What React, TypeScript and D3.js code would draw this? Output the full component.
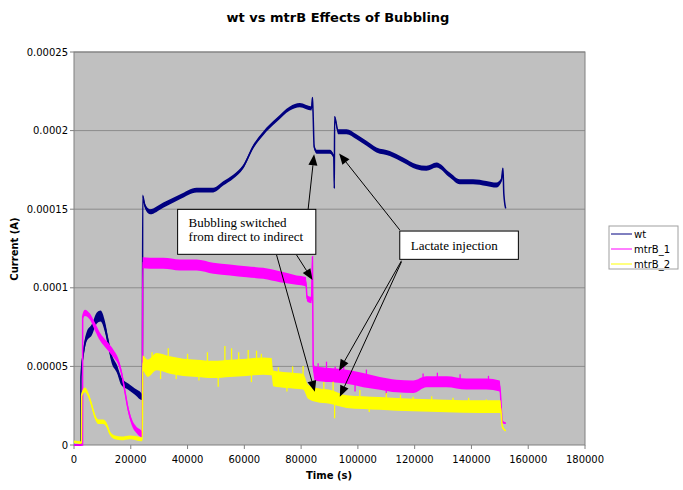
import React from "react";
import * as d3 from "d3";

type P = [number, number, number]; // [time s, current A, half-spread A]

const xTicks = [0, 20000, 40000, 60000, 80000, 100000, 120000, 140000, 160000, 180000];
const yTicks = [0, 0.00005, 0.0001, 0.00015, 0.0002, 0.00025];
const yTickLabels = ["0", "0.00005", "0.0001", "0.00015", "0.0002", "0.00025"];
const seriesNames = ["wt", "mtrB_1", "mtrB_2"];
const seriesColors = ["#000080", "#FF00FF", "#FFFF00"];

const wt: P[] = [
  [0, 0, 0.3e-6], [2400, 0, 0.3e-6], [2460, 4.34e-5, 2.5e-6], [3290, 5.83e-5, 3e-6],
  [4460, 6.89e-5, 3e-6], [6220, 7.31e-5, 3.5e-6], [7980, 8.06e-5, 3.5e-6], [9380, 8.2e-5, 3.5e-6],
  [10900, 7.52e-5, 3.5e-6], [12100, 6.47e-5, 3e-6], [13260, 5.51e-5, 3e-6], [15020, 4.88e-5, 2.5e-6],
  [16780, 4.03e-5, 2.5e-6], [19120, 3.71e-5, 2e-6], [21470, 3.39e-5, 2e-6], [23820, 3.07e-5, 2e-6],
  [24100, 3.0e-5, 1e-6], [24200, 1.584e-4, 1e-6], [25000, 1.52e-4, 1.6e-6], [26750, 1.484e-4, 1.6e-6],
  [31450, 1.526e-4, 1.6e-6], [37300, 1.579e-4, 1.5e-6], [43190, 1.622e-4, 1.5e-6], [49050, 1.622e-4, 1.5e-6],
  [52560, 1.664e-4, 1.4e-6], [56080, 1.706e-4, 1.3e-6], [59600, 1.77e-4, 1.3e-6], [63120, 1.897e-4, 1.3e-6],
  [66640, 1.982e-4, 1.3e-6], [71340, 2.067e-4, 1.3e-6], [76030, 2.141e-4, 1.3e-6], [79550, 2.162e-4, 1.3e-6],
  [83660, 2.141e-4, 1.3e-6], [84000, 2.21e-4, 0.5e-6], [84200, 2.12e-4, 1e-6], [84600, 1.897e-4, 1.3e-6],
  [85500, 1.865e-4, 1.3e-6], [90100, 1.865e-4, 1.3e-6], [91500, 1.834e-4, 1.3e-6], [91700, 1.632e-4, 0.5e-6],
  [91800, 2.088e-4, 0.5e-6], [93050, 1.993e-4, 1.6e-6], [96000, 1.993e-4, 1.6e-6], [99500, 1.961e-4, 1.6e-6],
  [103030, 1.919e-4, 1.6e-6], [106550, 1.876e-4, 1.6e-6], [111230, 1.855e-4, 1.6e-6], [115920, 1.813e-4, 1.6e-6],
  [120620, 1.77e-4, 1.6e-6], [124140, 1.76e-4, 1.6e-6], [127660, 1.781e-4, 1.6e-6], [132350, 1.717e-4, 1.6e-6],
  [135870, 1.675e-4, 1.6e-6], [140560, 1.675e-4, 1.6e-6], [145260, 1.664e-4, 1.6e-6], [148780, 1.654e-4, 1.6e-6],
  [150540, 1.685e-4, 1.3e-6], [151100, 1.76e-4, 0.5e-6], [151400, 1.6e-4, 0.5e-6], [152060, 1.505e-4, 0.5e-6],
];

const mtrB1: P[] = [
  [0, 0, 0.3e-6], [3000, 0, 0.3e-6], [3050, 8.16e-5, 2e-6], [3870, 8.41e-5, 2e-6],
  [5630, 8.16e-5, 2e-6], [7390, 7.52e-5, 2.5e-6], [9150, 6.89e-5, 2.5e-6], [11500, 6.36e-5, 2.5e-6],
  [13840, 5.83e-5, 2.5e-6], [15600, 5.3e-5, 2e-6], [16780, 4.56e-5, 2e-6], [17950, 3.39e-5, 2e-6],
  [19120, 2.23e-5, 2e-6], [20300, 1.48e-5, 2e-6], [22060, 9.5e-6, 2e-6], [23820, 7e-6, 2e-6],
  [24100, 6.5e-6, 1e-6], [24200, 1.16e-4, 3.5e-6], [26750, 1.156e-4, 3.5e-6], [31450, 1.156e-4, 3.5e-6],
  [37300, 1.145e-4, 3.5e-6], [43190, 1.145e-4, 3.5e-6], [49050, 1.124e-4, 3.5e-6], [54900, 1.113e-4, 3.5e-6],
  [60770, 1.102e-4, 3.5e-6], [66640, 1.092e-4, 3.5e-6], [72500, 1.07e-4, 3.5e-6], [78380, 1.049e-4, 3e-6],
  [81660, 1.039e-4, 3e-6], [82130, 9.33e-5, 2e-6], [83660, 9.22e-5, 2e-6], [84000, 1.198e-4, 1e-6],
  [84250, 5.09e-5, 3e-6], [84830, 4.56e-5, 4.5e-6], [90100, 4.45e-5, 4.5e-6], [96000, 4.34e-5, 4.5e-6],
  [101840, 4.13e-5, 4.5e-6], [107710, 3.92e-5, 4e-6], [113590, 3.75e-5, 4e-6], [119440, 3.71e-5, 4e-6],
  [124140, 4.03e-5, 3.5e-6], [131190, 4.03e-5, 3.5e-6], [138240, 3.88e-5, 3.5e-6], [145260, 3.88e-5, 3.5e-6],
  [149950, 3.75e-5, 3.5e-6], [150890, 1.48e-5, 1e-6], [152060, 1.38e-5, 0.5e-6],
];

const mtrB2: P[] = [
  [0, 2e-6, 0.8e-6], [2600, 1.5e-6, 0.8e-6], [2700, 3.18e-5, 1.5e-6], [3870, 3.5e-5, 1.5e-6],
  [5040, 3.18e-5, 1.5e-6], [6220, 2.54e-5, 1.5e-6], [7390, 1.8e-5, 1.5e-6], [8560, 1.48e-5, 1.5e-6],
  [10320, 1.48e-5, 1.5e-6], [11500, 1.27e-5, 1.5e-6], [12670, 7.4e-6, 1.2e-6], [14430, 4.9e-6, 1.2e-6],
  [16780, 4.2e-6, 1.2e-6], [19710, 4.9e-6, 1.2e-6], [23820, 3.6e-6, 1.2e-6], [24100, 3.6e-6, 1e-6],
  [24200, 5.2e-5, 5e-6], [26000, 4.88e-5, 5.5e-6], [29110, 5.3e-5, 5.5e-6], [33790, 5.09e-5, 5.5e-6],
  [38480, 4.94e-5, 5.5e-6], [43190, 4.88e-5, 5.5e-6], [49050, 4.81e-5, 5.5e-6], [54910, 4.88e-5, 5.5e-6],
  [60790, 4.94e-5, 5.5e-6], [66640, 5.02e-5, 5.5e-6], [69580, 4.98e-5, 5.5e-6], [70160, 4.24e-5, 5e-6],
  [74870, 4.13e-5, 5e-6], [80710, 4.03e-5, 5e-6], [82470, 3.39e-5, 4.5e-6], [85430, 3.18e-5, 4.5e-6],
  [90110, 3.07e-5, 4.5e-6], [96000, 2.76e-5, 4e-6], [107710, 2.65e-5, 4e-6], [119440, 2.54e-5, 4e-6],
  [131190, 2.48e-5, 4e-6], [142910, 2.44e-5, 4e-6], [150200, 2.44e-5, 4e-6], [150890, 1.16e-5, 1e-6],
  [152060, 9.1e-6, 0.5e-6],
];

// noise spikes [time, extreme value]
const mtrB1Spikes: [number, number][] = [
  [86000, 5.2e-5], [88940, 5.3e-5], [92000, 5.0e-5], [95000, 5.1e-5], [99000, 3.4e-5], [103000, 4.8e-5],
  [110000, 3.2e-5], [122960, 4.55e-5], [128000, 4.6e-5], [136000, 4.5e-5], [146000, 4.4e-5],
];
const mtrB2Spikes: [number, number][] = [
  [27500, 5.9e-5], [30500, 4.2e-5], [33200, 6.15e-5], [36000, 4.2e-5], [40000, 5.8e-5], [44000, 4.1e-5],
  [47000, 5.9e-5], [50800, 3.7e-5], [53150, 6.3e-5], [55500, 6.15e-5], [58000, 5.9e-5], [61360, 6.04e-5],
  [62500, 4.0e-5], [64300, 6.0e-5], [66000, 5.8e-5], [72000, 4.95e-5], [75000, 3.4e-5], [77000, 5.0e-5],
  [80700, 5.02e-5], [88000, 4.0e-5], [91270, 4.03e-5], [91800, 1.7e-5], [100700, 3.5e-5], [104000, 2.1e-5],
  [110000, 3.3e-5], [115000, 3.2e-5], [119440, 3.07e-5], [126000, 3.1e-5], [133500, 3.0e-5],
  [139000, 3.0e-5], [145260, 2.9e-5],
];

// annotations in data units
const boxes = [
  { lines: ["Bubbling switched", "from direct to indirect"], t0: 36500, t1: 85180, v0: 1.213e-4, v1: 1.499e-4 },
  { lines: ["Lactate injection"], t0: 114750, t1: 156530, v0: 1.181e-4, v1: 1.361e-4 },
];
const arrows: [number, number, number, number][] = [
  [82470, 1.499e-4, 84580, 1.849e-4],
  [78390, 1.209e-4, 84020, 1.05e-4],
  [71350, 1.209e-4, 84830, 3.39e-5],
  [114750, 1.368e-4, 93390, 1.855e-4],
  [115350, 1.172e-4, 93390, 4.73e-5],
  [115350, 1.165e-4, 93630, 3.07e-5],
];

const allSeries = [wt, mtrB1, mtrB2];
const allSpikes = [[], mtrB1Spikes, mtrB2Spikes] as [number, number][][];

const W = 683, H = 490;
const x = d3.scaleLinear().domain([0, 180000]).range([74, 585]);
const y = d3.scaleLinear().domain([0, 0.00025]).range([445, 52]);

const areaGen = d3
  .area<P>()
  .curve(d3.curveMonotoneX)
  .x((d) => x(d[0]))
  .y0((d) => y(d[1] - d[2]))
  .y1((d) => y(d[1] + d[2]));
const lineGen = d3
  .line<P>()
  .curve(d3.curveMonotoneX)
  .x((d) => x(d[0]))
  .y((d) => y(d[1]));
const bis = d3.bisector((d: P) => d[0]).left;

function centerAt(s: P[], t: number) {
  const i = Math.max(1, Math.min(s.length - 1, bis(s, t)));
  const a = s[i - 1], b = s[i];
  const f = (t - a[0]) / (b[0] - a[0] || 1);
  return a[1] + (b[1] - a[1]) * f;
}

const font = "'DejaVu Sans', Verdana, sans-serif";
const serif = "'Liberation Serif', 'Times New Roman', serif";

export default function App() {
  return (
    <svg width={W} height={H} style={{ position: "absolute", left: 0, top: 0, background: "#fff" }}>
      <text x={338} y={22} textAnchor="middle" fontFamily={font} fontWeight="bold" fontSize={13}>
        wt vs mtrB Effects of Bubbling
      </text>
      <rect x={x(0)} y={y(0.00025)} width={x(180000) - x(0)} height={y(0) - y(0.00025)} fill="#C0C0C0" />
      {yTicks.map((v, i) => (
        <g key={i}>
          {i > 0 && <line x1={x(0)} x2={x(180000)} y1={y(v)} y2={y(v)} stroke="#8c8c8c" strokeWidth={1} />}
          <line x1={x(0) - 4} x2={x(0)} y1={y(v)} y2={y(v)} stroke="#808080" />
          <text x={x(0) - 6} y={y(v) + 3.5} textAnchor="end" fontFamily={font} fontSize={10}>
            {yTickLabels[i]}
          </text>
        </g>
      ))}
      {xTicks.map((t, i) => (
        <g key={i}>
          <line x1={x(t)} x2={x(t)} y1={y(0)} y2={y(0) + 4} stroke="#808080" />
          <text x={x(t)} y={y(0) + 18} textAnchor="middle" fontFamily={font} fontSize={10}>
            {String(t)}
          </text>
        </g>
      ))}
      <rect x={x(0)} y={y(0.00025)} width={x(180000) - x(0)} height={y(0) - y(0.00025)} fill="none" stroke="#808080" />
      <text x={329} y={479} textAnchor="middle" fontFamily={font} fontWeight="bold" fontSize={10}>
        Time (s)
      </text>
      <text transform={`translate(18,249) rotate(-90)`} textAnchor="middle" fontFamily={font} fontWeight="bold" fontSize={10}>
        Current (A)
      </text>
      <g>
        {allSeries.map((s, i) => (
          <g key={i}>
            <path d={areaGen(s) || ""} fill={seriesColors[i]} />
            <path d={lineGen(s) || ""} fill="none" stroke={seriesColors[i]} strokeWidth={1.5} />
            {allSpikes[i].map((sp, j) => (
              <line key={j} x1={x(sp[0])} x2={x(sp[0])} y1={y(centerAt(s, sp[0]))} y2={y(sp[1])} stroke={seriesColors[i]} strokeWidth={1.3} />
            ))}
          </g>
        ))}
      </g>
      {arrows.map((a, i) => {
        const x1 = x(a[0]), y1 = y(a[1]), x2 = x(a[2]), y2 = y(a[3]);
        const ang = Math.atan2(y2 - y1, x2 - x1);
        const L = 11, Wd = 4.5;
        const bx = x2 - L * Math.cos(ang), by = y2 - L * Math.sin(ang);
        const px = -Math.sin(ang) * Wd, py = Math.cos(ang) * Wd;
        return (
          <g key={i}>
            <line x1={x1} y1={y1} x2={bx} y2={by} stroke="#000" strokeWidth={1} />
            <polygon points={`${x2},${y2} ${bx + px},${by + py} ${bx - px},${by - py}`} fill="#000" />
          </g>
        );
      })}
      {boxes.map((b, i) => {
        const bx = x(b.t0), by = y(b.v1), bw = x(b.t1) - x(b.t0), bh = y(b.v0) - y(b.v1);
        return (
          <g key={i}>
            <rect x={bx} y={by} width={bw} height={bh} fill="#fff" stroke="#000" strokeWidth={1} />
            {b.lines.map((l, j) => (
              <text key={j} x={bx + 11} y={by + (b.lines.length === 1 ? 18.5 : 17.5 + j * 14.5)} fontFamily={serif} fontSize={13}>
                {l}
              </text>
            ))}
          </g>
        );
      })}
      <g>
        <rect x={609} y={226} width={69} height={43} fill="#fff" stroke="#a0a0a0" />
        {seriesNames.map((n, i) => (
          <g key={i}>
            <line x1={611} x2={632} y1={234 + i * 15} y2={234 + i * 15} stroke={seriesColors[i]} strokeWidth={1} />
            <text x={634} y={237.5 + i * 15} fontFamily={font} fontSize={10}>
              {n}
            </text>
          </g>
        ))}
      </g>
    </svg>
  );
}
